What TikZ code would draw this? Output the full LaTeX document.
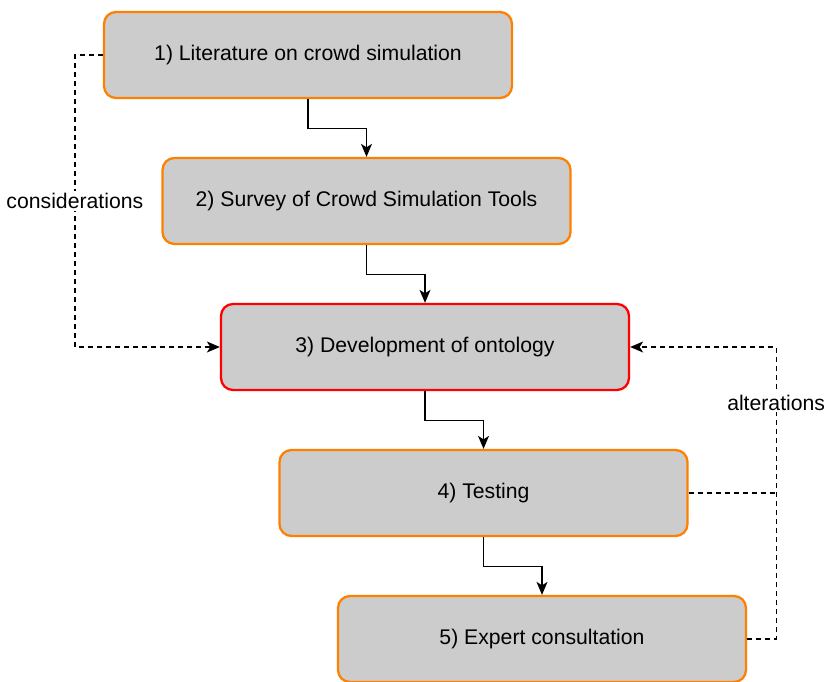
\documentclass[tikz,border=0pt]{standalone}
\usepackage{fontspec}
\setmainfont{Liberation Sans}
\usepackage{xcolor}
\usetikzlibrary{arrows.meta,positioning,calc}
\definecolor{boxfill}{HTML}{CCCCCC}
\definecolor{edgeor}{HTML}{FF8000}
\definecolor{edgered}{HTML}{FF0000}
\tikzset{
  stage/.style={draw=#1, line width=2.3pt, rounded corners=12pt, fill=boxfill, align=center,
    minimum width=408pt, minimum height=86pt, inner sep=4pt},
  stage/.default=edgeor,
  tip/.style={-{Stealth[length=13pt, width=11pt, inset=3.5pt]}},
  flow/.style={tip, line width=1.3pt},
  fback/.style={line width=1.3pt, dash pattern=on 5pt off 4pt},
}

\begin{document}
\begin{tikzpicture}[x=1pt, y=-1pt, font=\fontsize{21.2}{25}\selectfont, node distance=57.7pt]
  \useasboundingbox (0,0) rectangle (829,681);
  \node[stage] (lit) at (308,55) {1) Literature on crowd simulation};
  \node[stage, below=of lit, xshift=58.5pt] (survey) {2) Survey of Crowd Simulation Tools};
  \node[stage=edgered, below=of survey, xshift=58.5pt] (onto) {3) Development of ontology};
  \node[stage, below=of onto, xshift=58.5pt] (test) {4) Testing};
  \node[stage, below=of test, xshift=58.5pt] (expert) {5) Expert consultation};
  % main sequence
  \draw[flow] (lit.south) -- ++(0,29) -| (survey.north);
  \draw[flow] (survey.south) -- ++(0,29) -| (onto.north);
  \draw[flow] (onto.south) -- ++(0,29) -| (test.north);
  \draw[flow] (test.south) -- ++(0,29) -| (expert.north);
  % feedback lines
  \draw[fback, tip] (lit.west) -- ++(-28,0)
    |- node[pos=0.25, fill=white, inner sep=2pt] {considerations} (onto.west);
  \coordinate (rt) at ([xshift=29pt]expert.east);
  \draw[fback, tip] (expert.east) -- (rt)
    |- node[pos=0.405, fill=white, inner sep=2pt] {alterations} (onto.east);
  \draw[fback] (test.east) -- (test.east -| rt);
\end{tikzpicture}
\end{document}
